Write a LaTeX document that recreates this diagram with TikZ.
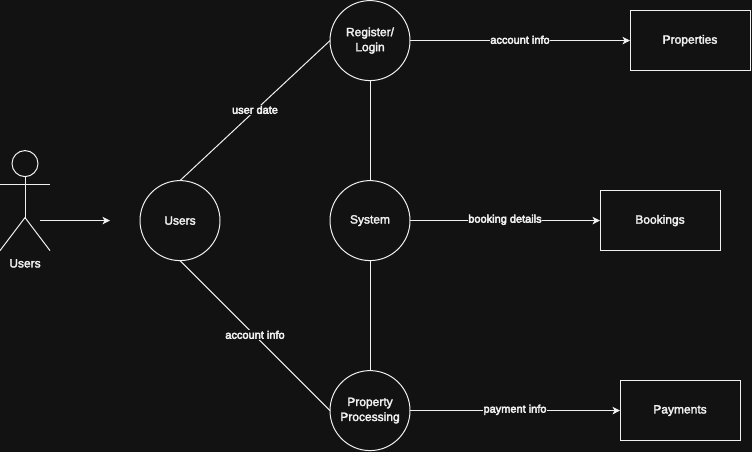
\documentclass[tikz,border=0pt]{standalone}
\usepackage{fontspec}
\setmainfont{Liberation Sans}
\newfontfamily\fakebold[FakeBold=2.5]{Liberation Sans}
\newfontfamily\fakeboldlbl[FakeBold=4]{Liberation Sans}
\usetikzlibrary{arrows.meta}
\definecolor{bgc}{HTML}{121212}
\definecolor{fgc}{HTML}{F0F0F0}
\tikzset{
  x=0.75pt,y=-0.75pt,
  every node/.style={text=fgc,font=\fontsize{9}{11.25}\selectfont\fakebold,align=center,inner sep=0pt,outer sep=0pt},
  line/.style={draw=fgc,line width=0.75pt},
  flow/.style={line,-{Stealth[length=7.5pt*0.75,width=7.5pt*0.75,inset=1.5pt]}},
  bubble/.style={circle,line,minimum size=60pt,fill=bgc},
  store/.style={rectangle,line,minimum width=90pt,minimum height=45pt,fill=bgc},
  lbl/.style={fill=bgc,font=\fontsize{8.25}{10}\selectfont\fakeboldlbl,inner xsep=0.5pt,inner ysep=0.5pt,yshift=0.6pt},
}
\begin{document}
\begin{tikzpicture}
\useasboundingbox (0,-0.6) rectangle (752,451.4);
\fill[bgc] (0,-0.6) rectangle (752,451.4);
% actor
\draw[line] (25,163) circle[radius=13];
\draw[line] (25,176) -- (25,217);
\draw[line] (0,183.5) -- (50,183.5);
\draw[line] (0,250) -- (25,217) -- (50,250);
\node (actorlabel) at (25,262.8) {Users};
\coordinate (actorout) at (40,220);
\coordinate (usersin) at (110,220);
\draw[flow] (actorout) -- (usersin);
% bubbles
\node[bubble] (users) at (180,220) {Users};
\node[bubble] (reg) at (370,40) {Register/\\Login};
\node[bubble] (sys) at (370,220) {System};
\node[bubble] (proc) at (370,410) {Property\\Processing};
% stores
\node[store] (props) at (690,40) {Properties};
\node[store] (books) at (660,220) {Bookings};
\node[store] (pays) at (680,410) {Payments};
% connectors
\draw[line] (users.north) -- node[lbl,pos=0.5] {user date} (reg.west);
\draw[line] (users.south) -- node[lbl,pos=0.5] {account info} (proc.west);
\draw[line] (reg.south) -- (sys.north);
\draw[line] (sys.south) -- (proc.north);
\draw[flow] (reg.east) -- node[lbl,pos=0.5] {account info} (props.west);
\draw[flow] (sys.east) -- node[lbl,pos=0.5] {booking details} (books.west);
\draw[flow] (proc.east) -- node[lbl,pos=0.5] {payment info} (pays.west);
\end{tikzpicture}
\end{document}
